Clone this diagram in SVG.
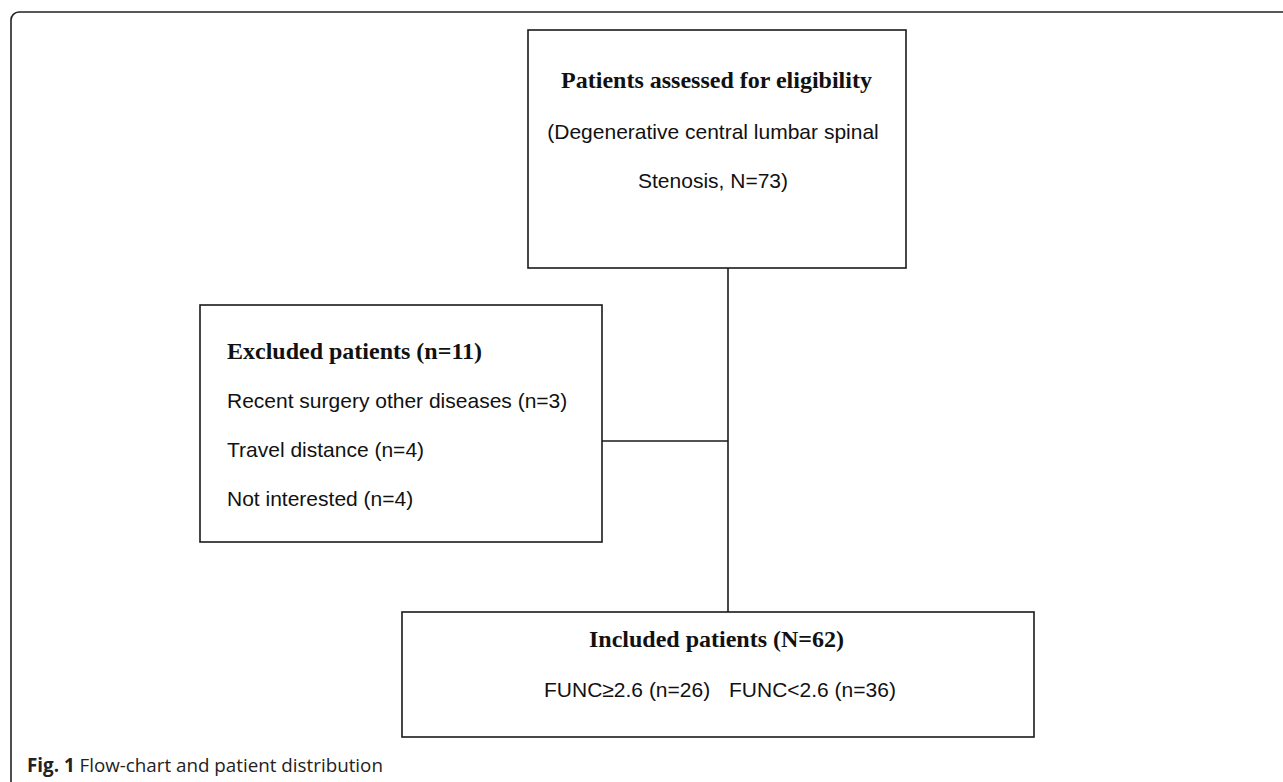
<svg xmlns="http://www.w3.org/2000/svg" width="1283" height="782" viewBox="0 0 1283 782">
<style>
.box{fill:#fff;stroke:#1a1a1a;stroke-width:1.6}
.frame{fill:none;stroke:#222;stroke-width:1.6}
.con{fill:none;stroke:#1a1a1a;stroke-width:1.6}
.hd{font-family:"Liberation Serif","Times New Roman",serif;font-weight:bold;font-size:24px;fill:#111}
.tx{font-family:"Liberation Sans",Arial,sans-serif;font-size:21px;fill:#111}
.cap{font-family:"Open Sans","Noto Sans",sans-serif;font-size:18.8px;fill:#222}
</style>
<rect width="1283" height="782" fill="#fff"/>
<path class="frame" d="M11,790 V20 A8,8 0 0 1 19,12 H1290"/>
<g id="connectors">
<line class="con" x1="728" y1="268" x2="728" y2="612"/>
<line class="con" x1="602" y1="441" x2="728" y2="441"/>
</g>
<g id="assessed">
<rect class="box" x="528" y="30" width="378" height="238"/>
<text class="hd" x="716.5" y="88" text-anchor="middle">Patients assessed for eligibility</text>
<text class="tx" x="713" y="139" text-anchor="middle">(Degenerative central lumbar spinal</text>
<text class="tx" x="713" y="188" text-anchor="middle">Stenosis, N=73)</text>
</g>
<g id="excluded">
<rect class="box" x="200" y="305" width="402" height="237"/>
<text class="hd" x="227" y="359">Excluded patients (n=11)</text>
<text class="tx" x="227" y="408">Recent surgery other diseases (n=3)</text>
<text class="tx" x="227" y="457">Travel distance (n=4)</text>
<text class="tx" x="227" y="506">Not interested (n=4)</text>
</g>
<g id="included">
<rect class="box" x="402" y="612" width="632" height="125"/>
<text class="hd" x="589" y="647">Included patients (N=62)</text>
<text class="tx" y="697"><tspan x="544">FUNC≥2.6 (n=26)</tspan><tspan x="729">FUNC&lt;2.6 (n=36)</tspan></text>
</g>
<text class="cap" x="27" y="772"><tspan font-weight="bold">Fig. 1</tspan> Flow-chart and patient distribution</text>
</svg>
